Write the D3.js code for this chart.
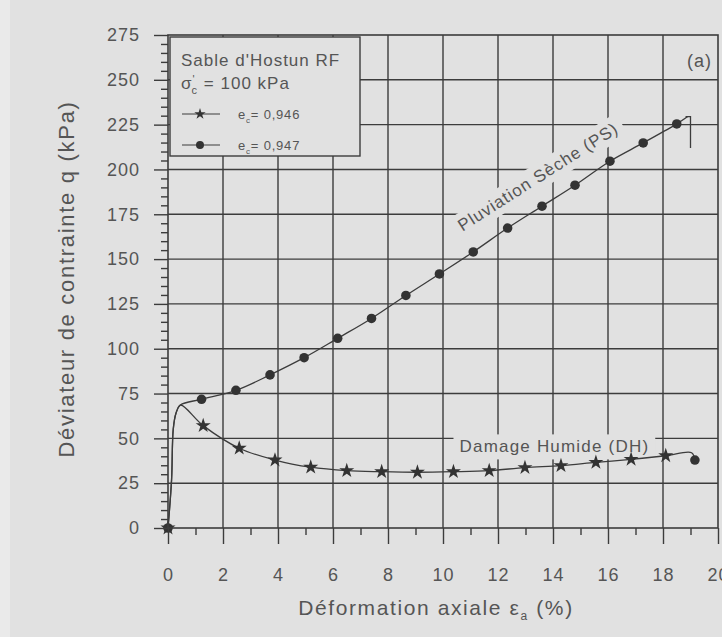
<!DOCTYPE html>
<html>
<head>
<meta charset="utf-8">
<script src="https://cdn.jsdelivr.net/npm/d3@7"></script>
<style>
  html, body { margin: 0; padding: 0; background: #e1e1e1; }
  svg { display: block; }
  text { font-family: "Liberation Sans", Arial, Helvetica, sans-serif; fill: #555; }
</style>
</head>
<body>
<svg id="chart" width="722" height="637"></svg>
<script>
// Axial strain (%) and deviator stress q (kPa)
const xTicks = [0, 2, 4, 6, 8, 10, 12, 14, 16, 18, 20];
const yTicks = [0, 25, 50, 75, 100, 125, 150, 175, 200, 225, 250, 275];

// Shared initial loading branch (both specimens)
const rise = [[0, 0], [0.13, 27], [0.19, 55], [0.29, 64], [0.45, 68.6]];

// Pluviation sèche (PS), e_c = 0,947 — circles
const psMarks = [[0, 0], [1.22, 71.8], [2.47, 76.8], [3.71, 85.4], [4.95, 95], [6.17, 105.8],
  [7.4, 116.9], [8.65, 129.7], [9.87, 141.7], [11.1, 154], [12.35, 167.3], [13.6, 179.5],
  [14.8, 191.2], [16.07, 204.6], [17.28, 214.8], [18.5, 225.4]];
const psEnd = [[18.9, 229.5]];
const psUnload = [[18.82, 229.5], [19.0, 229.5], [19.0, 212]];

// Damage humide (DH), e_c = 0,946 — stars (last reading drawn as a dot)
const dhMarks = [[0, 0], [1.28, 57.1], [2.59, 44.5], [3.89, 37.9], [5.19, 33.9], [6.5, 32],
  [7.77, 31.4], [9.07, 31.1], [10.38, 31.4], [11.68, 32], [12.98, 33.7], [14.29, 34.8],
  [15.56, 36.6], [16.84, 38.3], [18.1, 40.3], [19.16, 37.9]];
const dhShapes = ["star", "star", "star", "star", "star", "star", "star", "star", "star", "star",
  "star", "star", "star", "star", "star", "dot"];
const dhHook = [[19.04, 42]];

const legendTitle = "Sable d'Hostun RF";
const legendStress = ["σ", "'", "c", " = 100 kPa"];
const legendEntries = [
  { shape: "star", e: "0,946" },
  { shape: "dot", e: "0,947" }
];

const svg = d3.select("#chart");
const ink = "#3c3c3c";
const bg = "#e1e1e1";

const x = d3.scaleLinear().domain([0, 20]).range([168, 718]);
const y = d3.scaleLinear().domain([0, 275]).range([528, 35]);

// lighter scanner strip on the left edge
svg.append("rect").attr("x", 0).attr("y", 0).attr("width", 10).attr("height", 637).attr("fill", "#eaeaea");

// grid
const grid = svg.append("g").attr("stroke", ink).attr("stroke-width", 1.4);
grid.selectAll("line.v").data(xTicks.slice(1, -1)).join("line")
  .attr("x1", d => x(d)).attr("x2", d => x(d)).attr("y1", y(0)).attr("y2", y(275));
grid.selectAll("line.h").data(yTicks.slice(1, -1)).join("line")
  .attr("y1", d => y(d)).attr("y2", d => y(d)).attr("x1", x(0)).attr("x2", x(20));

// curve labels (background boxes hide the grid beneath)
const psLabelPos = [13.45, 196];
const psAngle = -32.5;
const psLabel = svg.append("g")
  .attr("transform", `translate(${x(psLabelPos[0])},${y(psLabelPos[1])}) rotate(${psAngle})`);
const psText = psLabel.append("text").attr("text-anchor", "middle").attr("dy", "0.35em")
  .style("font-size", "17px").style("letter-spacing", "1px").text("Pluviation Sèche (PS)");

const dhLabelPos = [14.05, 45.5];
const dhLabel = svg.append("g").attr("transform", `translate(${x(dhLabelPos[0])},${y(dhLabelPos[1])})`);
const dhText = dhLabel.append("text").attr("text-anchor", "middle").attr("dy", "0.35em")
  .style("font-size", "17px").style("letter-spacing", "1.2px").text("Damage Humide (DH)");

[[psLabel, psText, 6], [dhLabel, dhText, 6]].forEach(([g, t, pad]) => {
  const b = t.node().getBBox();
  g.insert("rect", "text").attr("x", b.x - pad).attr("y", b.y - 3)
    .attr("width", b.width + 2 * pad).attr("height", b.height + 6).attr("fill", bg);
});

// curves
const line = d3.line().x(d => x(d[0])).y(d => y(d[1])).curve(d3.curveCatmullRom.alpha(0.5));
const lineStraight = d3.line().x(d => x(d[0])).y(d => y(d[1]));
const psPath = rise.concat(psMarks.slice(1), psEnd);
const dhPath = rise.concat(dhMarks.slice(1, -1), dhHook, dhMarks.slice(-1));
svg.append("path").attr("d", line(psPath)).attr("fill", "none").attr("stroke", ink).attr("stroke-width", 1.3);
svg.append("path").attr("d", lineStraight(psUnload)).attr("fill", "none").attr("stroke", ink).attr("stroke-width", 1.3);
svg.append("path").attr("d", line(dhPath)).attr("fill", "none").attr("stroke", ink).attr("stroke-width", 1.3);

const symStar = d3.symbol().type(d3.symbolStar).size(70);
const symDot = d3.symbol().type(d3.symbolCircle).size(72);
function drawMark(sel, shape) {
  sel.append("path").attr("d", shape === "star" ? symStar() : symDot()).attr("fill", "#333");
}

svg.append("g").selectAll("g").data(psMarks).join("g")
  .attr("transform", d => `translate(${x(d[0])},${y(d[1])})`)
  .each(function () { drawMark(d3.select(this), "dot"); });
svg.append("g").selectAll("g").data(dhMarks).join("g")
  .attr("transform", d => `translate(${x(d[0])},${y(d[1])})`)
  .each(function (d, i) { drawMark(d3.select(this), dhShapes[i]); });

// axes
const fontAxis = "18px";
const xAxis = svg.append("g").attr("transform", `translate(0,${y(0)})`)
  .call(d3.axisBottom(x).tickValues(xTicks).tickSize(16).tickPadding(24).tickFormat(d3.format("d")));
const xMinor = svg.append("g").attr("transform", `translate(0,${y(0)})`)
  .call(d3.axisBottom(x).tickValues(d3.range(1, 20, 2)).tickSize(7).tickFormat(""));
const yAxis = svg.append("g").attr("transform", `translate(${x(0)},0)`)
  .call(d3.axisLeft(y).tickValues(yTicks).tickSize(14).tickPadding(14).tickFormat(d3.format("d")));
const yMinor = svg.append("g").attr("transform", `translate(${x(0)},0)`)
  .call(d3.axisLeft(y).tickValues(d3.range(5, 275, 5).filter(v => v % 25 !== 0)).tickSize(7).tickFormat(""));
[xAxis, xMinor, yAxis, yMinor].forEach(a => {
  a.select(".domain").remove();
  a.selectAll(".tick line").attr("stroke", ink).attr("stroke-width", 1.4);
  a.selectAll("text").attr("fill", "#555").style("font-size", fontAxis).style("letter-spacing", "1px")
    .style("font-family", "'Liberation Sans', Arial, sans-serif");
});

// frame
svg.append("rect").attr("x", x(0)).attr("y", y(275)).attr("width", x(20) - x(0)).attr("height", y(0) - y(275))
  .attr("fill", "none").attr("stroke", ink).attr("stroke-width", 1.6);

// axis titles
svg.append("text").attr("x", 436).attr("y", 615).attr("text-anchor", "middle")
  .style("font-size", "21px").style("letter-spacing", "1.6px")
  .call(t => {
    t.append("tspan").text("Déformation axiale ε");
    t.append("tspan").attr("dy", 5).style("font-size", "12px").text("a");
    t.append("tspan").attr("dy", -5).text(" (%)");
  });
svg.append("text").attr("transform", "translate(74,279) rotate(-90)").attr("text-anchor", "middle")
  .style("font-size", "22px").style("letter-spacing", "1.7px").text("Déviateur de contrainte q (kPa)");

// panel tag
svg.append("text").attr("x", 712).attr("y", 67).attr("text-anchor", "end")
  .style("font-size", "18px").style("letter-spacing", "1px").text("(a)");

// legend
const lg = svg.append("g");
lg.append("rect").attr("x", 170).attr("y", 37).attr("width", 190).attr("height", 119)
  .attr("fill", bg).attr("stroke", ink).attr("stroke-width", 1.4);
lg.append("text").attr("x", 181).attr("y", 66).style("font-size", "17px").style("letter-spacing", "1px")
  .text(legendTitle);
lg.append("text").attr("x", 181).attr("y", 89).style("font-size", "17px").style("letter-spacing", "1px")
  .call(t => {
    t.append("tspan").text(legendStress[0]);
    t.append("tspan").attr("dy", -6).style("font-size", "11px").text(legendStress[1]);
    t.append("tspan").attr("dx", -4).attr("dy", 11).style("font-size", "11px").text(legendStress[2]);
    t.append("tspan").attr("dy", -5).text(legendStress[3]);
  });
legendEntries.forEach((e, i) => {
  const yy = 114 + i * 31;
  lg.append("line").attr("x1", 182).attr("x2", 220).attr("y1", yy).attr("y2", yy)
    .attr("stroke", ink).attr("stroke-width", 1.2);
  const m = lg.append("g").attr("transform", `translate(200,${yy})`);
  m.append("path").attr("d", e.shape === "star" ? d3.symbol().type(d3.symbolStar).size(40)() : d3.symbol().type(d3.symbolCircle).size(50)())
    .attr("fill", "#333");
  lg.append("text").attr("x", 238).attr("y", yy + 5).style("font-size", "13px").style("letter-spacing", "0.8px")
    .call(t => {
      t.append("tspan").text("e");
      t.append("tspan").attr("dy", 4).style("font-size", "8px").text("c");
      t.append("tspan").attr("dy", -4).text("= " + e.e);
    });
});
</script>
</body>
</html>
